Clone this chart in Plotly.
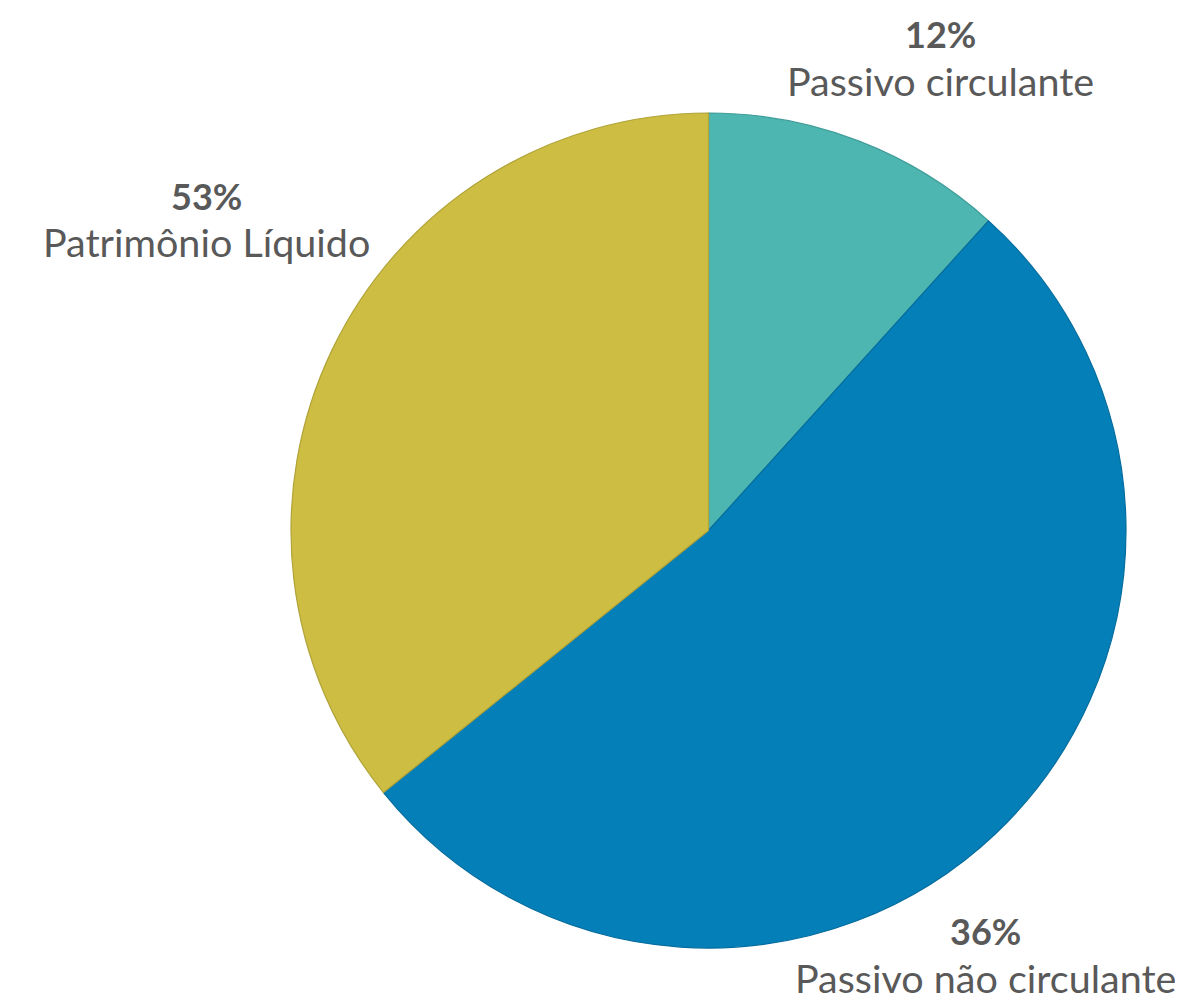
import plotly.graph_objects as go

# Slice sizes as drawn (clockwise from 12 o'clock)
categories = ["Passivo circulante", "Passivo não circulante", "Patrimônio Líquido"]
slice_values = [11.7, 52.5, 35.8]
colors = ["#4DB6B1", "#057FB8", "#CDBE43"]
edge_colors = ["#3E9C98", "#046C9E", "#B0A338"]

# Labels as printed on the chart
pct_labels = ["12%", "36%", "53%"]
name_labels = ["Passivo circulante", "Passivo não circulante", "Patrimônio Líquido"]
# label anchor positions in pixels (x, y of percent line, y of name line)
label_pos = [(940, 34, 80), (985, 931, 977), (206, 196, 242)]

W, H = 1183, 1001
OFF = 8  # page body margin
cx, cy, r = 708.5 - OFF, 530.5 - OFF, 417.5

fig = go.Figure(go.Pie(
    labels=categories,
    values=slice_values,
    sort=False,
    direction="clockwise",
    rotation=0,
    marker=dict(colors=colors, line=dict(color=edge_colors, width=1.2)),
    textinfo="none",
    hoverinfo="label+percent",
    showlegend=False,
    domain=dict(x=[(cx - r) / W, (cx + r) / W], y=[1 - (cy + r) / H, 1 - (cy - r) / H]),
))

font_fam = "Lato, Open Sans, sans-serif"
anns = []
for pct, name, (x, y1, y2) in zip(pct_labels, name_labels, label_pos):
    x -= OFF
    y1 -= OFF
    y2 -= OFF
    anns.append(dict(x=x / W, y=1 - y1 / H, xref="paper", yref="paper", text="<b>" + pct + "</b>",
                     showarrow=False, xanchor="center", yanchor="middle",
                     font=dict(family=font_fam, size=36, color="#595959")))
    anns.append(dict(x=x / W, y=1 - y2 / H, xref="paper", yref="paper", text=name,
                     showarrow=False, xanchor="center", yanchor="middle",
                     font=dict(family=font_fam, size=39.5, color="#595959")))

fig.update_layout(
    width=W, height=H,
    margin=dict(l=0, r=0, t=0, b=0),
    paper_bgcolor="white", plot_bgcolor="white",
    annotations=anns,
)
fig.write_html("out.html")
